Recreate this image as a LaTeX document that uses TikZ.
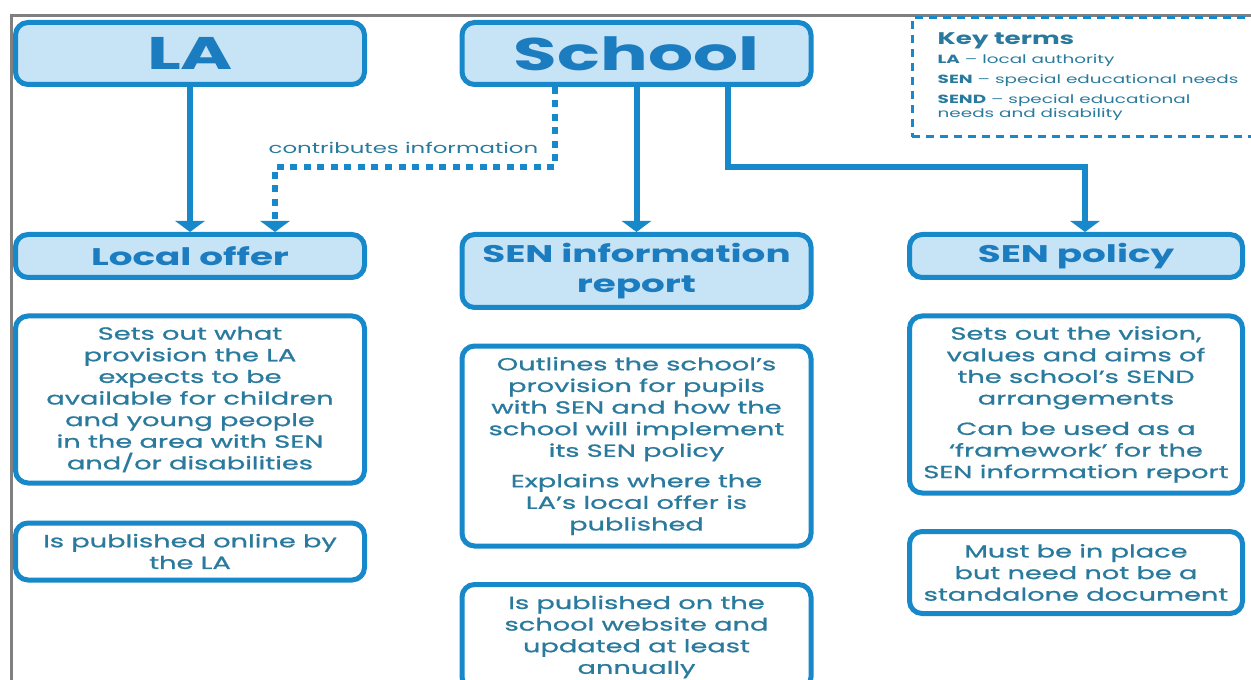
\documentclass[tikz,border=0pt]{standalone}
\usepackage{fontspec}
\setmainfont{Poppins}[FakeStretch=1.55]
\newfontfamily\bodyfont{Poppins}[FakeStretch=1.55, FakeBold=1]
\usetikzlibrary{positioning,arrows.meta}
\definecolor{senblue}{HTML}{1788C9}
\definecolor{senfill}{HTML}{C7E3F6}
\definecolor{sentitle}{HTML}{1B7CC0}
\definecolor{sentext}{HTML}{2A7A9E}
\definecolor{framegray}{HTML}{808080}
\begin{document}
\begin{tikzpicture}[node distance=0.67cm,
    head/.style={draw=senblue, fill=senfill, line width=0.1cm, rounded corners=0.25cm, minimum width=6.98cm, minimum height=1.24cm, text=sentitle, font=\fontsize{26}{28}\selectfont\bfseries},
    sub/.style={head, minimum height=0.86cm, align=center, font=\fontsize{13.7}{17}\selectfont\bfseries},
    desc/.style={draw=senblue, fill=white, line width=0.1cm, rounded corners=0.25cm, minimum width=6.98cm, align=center, text=sentext, font=\bodyfont\fontsize{10}{12.3}\selectfont},
    keyterms/.style={align=left, text=sentext, font=\fontsize{6.75}{8}\selectfont},
    link/.style={draw=senblue, line width=0.12cm, -{Triangle[width=0.58cm,length=0.22cm]}},
    dotlink/.style={link, dash pattern=on 0.14cm off 0.13cm}]
  \useasboundingbox (0,0) rectangle (25.02,-13.6);
  % frame
  \draw[framegray, line width=0.06cm] (0.23,-13.6) -- (0.23,-0.32) -- (25.02,-0.32);
  % top row
  \node[head] (la) at (3.8,-1.07) {LA};
  \node[head] (school) at (12.73,-1.07) {School};
  \node[draw=senblue, line width=0.06cm, dash pattern=on 0.16cm off 0.12cm, minimum width=7.6cm, minimum height=2.38cm] (key) at (22.04,-1.55) {};
  \node[keyterms, anchor=north west] (keylist) at ([shift={(0.42,-0.2)}]key.north west) {{\fontsize{9.6}{12}\selectfont\bfseries Key terms}\\[3pt]
    {\bfseries LA} – local authority\\[3.3pt]
    {\bfseries SEN} – special educational needs\\[3.3pt]
    {\bfseries SEND} – special educational\\needs and disability};
  % second row
  \node[sub] (offer) at (3.8,-5.12) {Local offer};
  \node[sub, minimum height=1.46cm] (report) at (12.73,-5.42) {SEN information\\report};
  \node[sub, minimum width=6.66cm] (policy) at (21.52,-5.12) {SEN policy};
  % descriptions
  \node[desc, below=of offer, minimum height=3.34cm] (offerdesc) {Sets out what\\provision the LA\\expects to be\\available for children\\and young people\\in the area with SEN\\and/or disabilities};
  \node[desc, below=0.7cm of offerdesc, minimum height=1.14cm] (offerpub) {Is published online by\\the LA};
  \node[desc, below=of report, minimum height=4.0cm] (reportdesc) {Outlines the school’s\\provision for pupils\\with SEN and how the\\school will implement\\its SEN policy\\[5pt]Explains where the\\LA’s local offer is\\published};
  \node[desc, below=of reportdesc, minimum height=2.1cm] (reportpub) {Is published on the\\school website and\\updated at least\\annually};
  \node[desc, below=of policy, minimum width=6.66cm, minimum height=3.54cm] (policydesc) {Sets out the vision,\\values and aims of\\the school’s SEND\\arrangements\\[5pt]Can be used as a\\‘framework’ for the\\SEN information report};
  \node[desc, below=of policydesc, minimum width=6.66cm, minimum height=1.64cm] (policypub) {Must be in place\\but need not be a\\standalone document};
  % connectors
  \draw[link] (la) -- (offer);
  \draw[link] (school) -- (report);
  \coordinate (infobend) at (11.1,-3.34);
  \coordinate (offerin) at (5.5,-4.6);
  \draw[dotlink] (school.south -| infobend) -- (infobend) -| (offer.north -| offerin);
  \node[anchor=base, text=sentext, font=\fontsize{8.4}{10}\selectfont] (contrib) at (8.07,-3.08) {contributes information};
  \coordinate (policybend) at (14.56,-3.34);
  \coordinate (policyin) at (21.7,-4.6);
  \draw[link] (school.south -| policybend) -- (policybend) -| (policy.north -| policyin);
\end{tikzpicture}
\end{document}
